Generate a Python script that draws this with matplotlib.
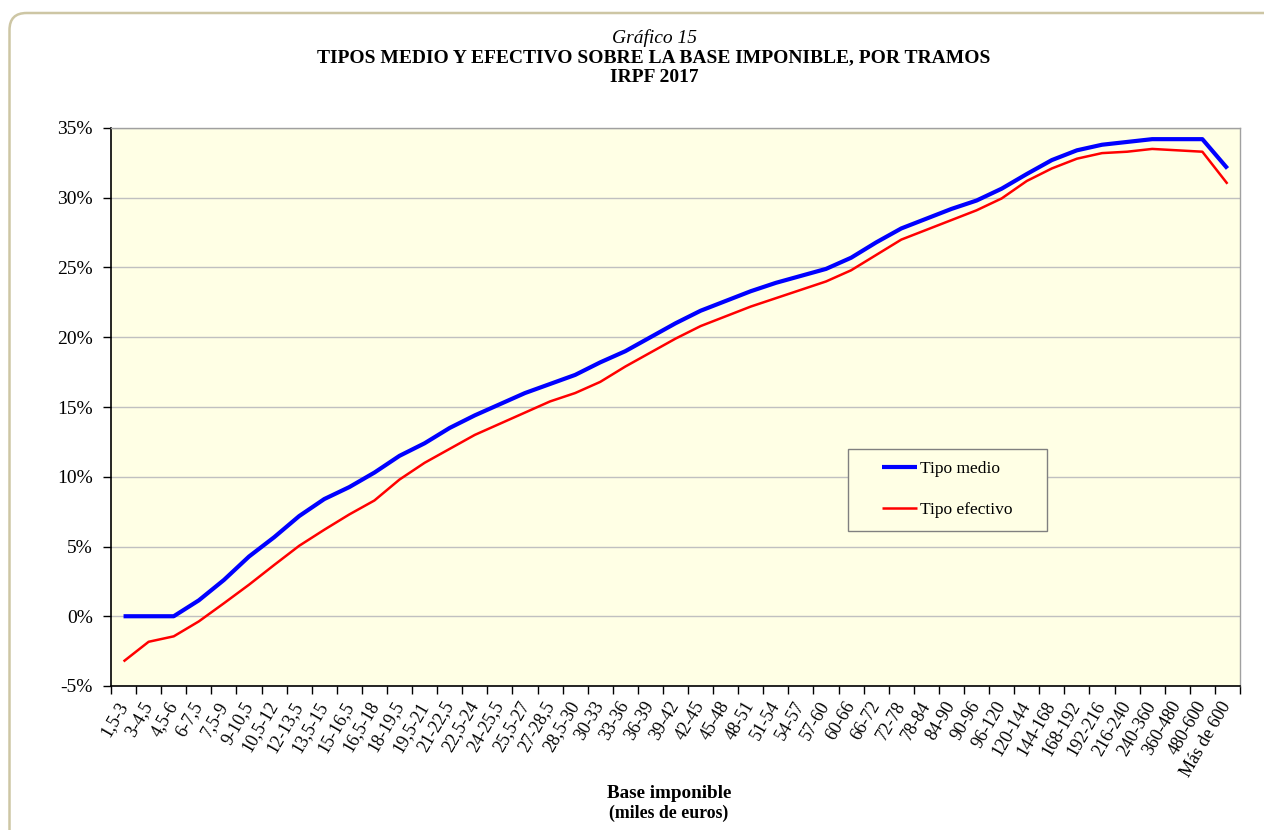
import matplotlib
matplotlib.use("Agg")
import matplotlib.pyplot as plt
from matplotlib.patches import FancyBboxPatch, Rectangle
from matplotlib.transforms import IdentityTransform
import numpy as np

categories = ["1,5-3", "3-4,5", "4,5-6", "6-7,5", "7,5-9", "9-10,5", "10,5-12", "12-13,5",
              "13,5-15", "15-16,5", "16,5-18", "18-19,5", "19,5-21", "21-22,5", "22,5-24",
              "24-25,5", "25,5-27", "27-28,5", "28,5-30", "30-33", "33-36", "36-39", "39-42",
              "42-45", "45-48", "48-51", "51-54", "54-57", "57-60", "60-66", "66-72", "72-78",
              "78-84", "84-90", "90-96", "96-120", "120-144", "144-168", "168-192", "192-216",
              "216-240", "240-360", "360-480", "480-600", "Más de 600"]

tipo_medio = [0.0, 0.0, 0.0, 1.14, 2.6, 4.28, 5.66, 7.18, 8.4, 9.26, 10.3, 11.5, 12.4, 13.5,
              14.4, 15.2, 16.0, 16.65, 17.3, 18.2, 19.0, 20.0, 21.0, 21.9, 22.6, 23.3, 23.9,
              24.4, 24.9, 25.7, 26.8, 27.8, 28.5, 29.2, 29.8, 30.65, 31.7, 32.7, 33.4, 33.8,
              34.0, 34.2, 34.2, 34.2, 32.1]

tipo_efectivo = [-3.24, -1.83, -1.44, -0.37, 0.93, 2.26, 3.67, 5.05, 6.2, 7.3, 8.3, 9.8, 11.0,
                 12.0, 13.0, 13.8, 14.6, 15.4, 16.0, 16.8, 17.9, 18.9, 19.9, 20.8, 21.5, 22.2,
                 22.8, 23.4, 24.0, 24.8, 25.9, 27.0, 27.7, 28.4, 29.1, 29.95, 31.2, 32.1, 32.8,
                 33.2, 33.3, 33.5, 33.4, 33.3, 31.0]

yticks = [-5, 0, 5, 10, 15, 20, 25, 30, 35]

plt.rcParams['font.family'] = ['Liberation Serif', 'DejaVu Serif']

W, H = 1264, 830
fig = plt.figure(figsize=(W / 100, H / 100), dpi=100)
fig.patch.set_facecolor('white')

# outer rounded frame (pixel coordinates)
frame = FancyBboxPatch((9.5, -40), W + 60, H - 13 + 40,
                       boxstyle="round,pad=0,rounding_size=17",
                       transform=IdentityTransform(), facecolor='none',
                       edgecolor='#cdc6a4', linewidth=1.8, clip_on=False)
fig.patches.append(frame)

ax = fig.add_axes([111 / W, 1 - 686 / H, (1240 - 111) / W, (686 - 128) / H])
ax.set_facecolor('#ffffe5')

x = np.arange(len(categories))
ax.plot(x, tipo_medio, color='#0000ff', lw=3.0, label='Tipo medio', solid_capstyle='butt', zorder=3)
ax.plot(x, tipo_efectivo, color='#ff0000', lw=1.8, label='Tipo efectivo', solid_capstyle='butt', zorder=3)

ax.set_xlim(-0.5, len(categories) - 0.5)
ax.set_ylim(-5, 35)

ax.set_yticks(yticks)
ax.set_yticklabels([f"{v}%" for v in yticks], fontsize=14)
ax.yaxis.grid(True, color='#c0c0c0', lw=1.0)
ax.set_axisbelow(True)

ax.set_xticks(x)
ax.set_xticklabels(categories, rotation=60, ha='right', va='center', rotation_mode='anchor', fontsize=13)
ax.set_xticks(np.arange(-0.5, len(categories), 1.0), minor=True)
ax.tick_params(axis='x', which='major', length=0, pad=12)
ax.tick_params(axis='x', which='minor', length=6, width=1, direction='out', color='black')
ax.tick_params(axis='y', which='major', length=6, width=1, direction='out', color='black', pad=7)

for s in ['top', 'right']:
    ax.spines[s].set_color('#a0a0a0')
    ax.spines[s].set_linewidth(1.0)
for s in ['left', 'bottom']:
    ax.spines[s].set_color('black')
    ax.spines[s].set_linewidth(1.2)

# legend box
def ax_x(px):
    return (px - 111) / 1129

def ax_y(py):
    return (686 - py) / 558

box = Rectangle((ax_x(848), ax_y(531)), ax_x(1047) - ax_x(848), ax_y(449) - ax_y(531),
                transform=ax.transAxes, facecolor='#ffffe5', edgecolor='#808080',
                linewidth=1.0, zorder=4)
ax.add_patch(box)
leg = ax.legend(loc='center left', bbox_to_anchor=(ax_x(882), ax_y(489.5)),
                fontsize=12.5, frameon=False, handlelength=2.0,
                labelspacing=1.42, borderpad=0, handletextpad=0.2, borderaxespad=0)
leg.set_zorder(5)

cx = 654 / W
fig.text(cx, 1 - 38 / H, "Gráfico 15", ha='center', va='center', fontsize=14, style='italic')
fig.text(cx, 1 - 58 / H, "TIPOS MEDIO Y EFECTIVO SOBRE LA BASE IMPONIBLE, POR TRAMOS",
         ha='center', va='center', fontsize=14, weight='bold')
fig.text(cx, 1 - 77 / H, "IRPF 2017", ha='center', va='center', fontsize=14, weight='bold')

fig.text(669 / W, 1 - 793 / H, "Base imponible", ha='center', va='center', fontsize=13.8, weight='bold')
fig.text(669 / W, 1 - 813 / H, "(miles de euros)", ha='center', va='center', fontsize=12.8, weight='bold')

fig.savefig('out.png', dpi=100)
